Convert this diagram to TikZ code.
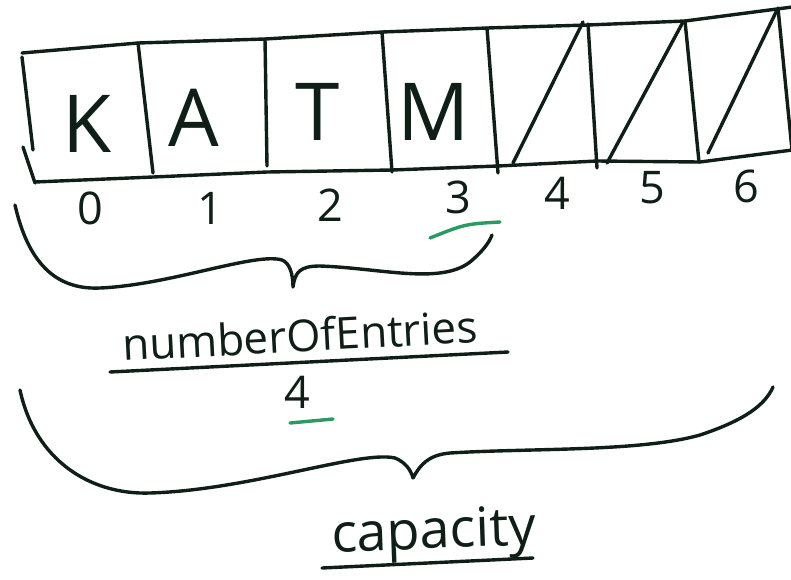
\documentclass[tikz,border=0pt]{standalone}
\usepackage{fontspec}
\setmainfont{Open Sans}
\definecolor{ink}{HTML}{0F1F17}
\definecolor{markgreen}{HTML}{2A9A62}
\begin{document}
\begin{tikzpicture}[x=1pt, y=-1pt, line cap=round, line join=round,
    pen/.style={draw=ink, line width=3.4pt},
    greenpen/.style={draw=markgreen, line width=3.4pt},
    letter/.style={text=ink, inner sep=0pt, font=\fontsize{80}{80}\selectfont},
    index/.style={text=ink, inner sep=0pt, font=\fontsize{45}{45}\selectfont},
    word/.style={text=ink, inner sep=0pt, anchor=base west}]
	% page
	\fill[white] (0,0) rectangle (791,579);
	\useasboundingbox (0,0) rectangle (791,579);

	% array frame
	\draw[pen] (22,53) -- (138,43) -- (265,39) -- (382,32) -- (487,28) -- (588,25) -- (685,21) -- (777,9) -- (800,6);
	\draw[pen] (35,182) -- (153,177) -- (267,172) -- (392,170) -- (498,166) -- (597,161) -- (700,162) -- (800,149);
	\draw[pen] (22,57) -- (33,150);
	\draw[pen] (23,147) -- (35,183);

	% slot dividers
	\foreach \xa/\ya/\xb/\yb in {138/43/153/173, 265/39/267/166, 382/32/392/172, 487/28/498/173, 588/24/597/168, 685/21/699/162, 778/8/792/150}
		\draw[pen] (\xa,\ya) -- (\xb,\yb);

	% unused slots crossed out
	\foreach \xa/\ya/\xb/\yb in {513/163/583/22, 607/163/683/22, 708/153/777/10}
		\draw[pen] (\xa,\ya) -- (\xb,\yb);

	% stored letters
	\node[letter] (slotK) at (87,124) {K};
	\node[letter] (slotA) at (194,118) {A};
	\node[letter] (slotT) at (318,112) {T};
	\node[letter] (slotM) at (434,112) {M};

	% indices
	\node[index] (idx0) at (90,208) {0};
	\node[index] (idx1) at (210,208) {1};
	\node[index] (idx2) at (330,205) {2};
	\node[index] (idx3) at (458,197) {3};
	\node[index] (idx4) at (557,193) {4};
	\node[index] (idx5) at (652,188) {5};
	\node[index] (idx6) at (746,186) {6};
	\draw[greenpen] (430,238) .. controls (465,224) .. (500,222);

	% brace over the used slots
	\coordinate (usedL) at (15,205);
	\coordinate (usedTip) at (293,287);
	\coordinate (usedR) at (492,235);
	\draw[pen] (usedL) .. controls (28,262) and (55,290) .. (100,288)
		.. controls (170,285) and (255,252) .. (282,260)
		.. controls (290,263) and (293,275) .. (usedTip)
		.. controls (295,272) and (300,266) .. (320,266)
		.. controls (380,268) and (440,285) .. (470,262)
		.. controls (482,252) and (489,243) .. (usedR);

	% numberOfEntries
	\node[word, rotate=3, font=\fontsize{44}{44}\selectfont] (entries) at (123,361) {numberOfEntries};
	\draw[pen] (110,372) -- (508,352);
	\node[index] (count) at (297,392) {4};
	\draw[greenpen] (290,423) -- (333,419);

	% brace over all slots
	\coordinate (allL) at (20,390);
	\coordinate (allTip) at (413,478);
	\coordinate (allR) at (773,387);
	\draw[pen] (allL) .. controls (35,460) and (90,495) .. (150,493)
		.. controls (250,490) and (360,450) .. (395,458)
		.. controls (405,462) and (411,470) .. (allTip)
		.. controls (420,465) and (428,455) .. (450,453)
		.. controls (530,448) and (640,452) .. (700,435)
		.. controls (745,420) and (765,405) .. (allR);

	% capacity
	\node[word, rotate=2, font=\fontsize{54}{54}\selectfont] (cap) at (332,552) {capacity};
	\draw[pen] (322,568) -- (533,558);
\end{tikzpicture}
\end{document}
